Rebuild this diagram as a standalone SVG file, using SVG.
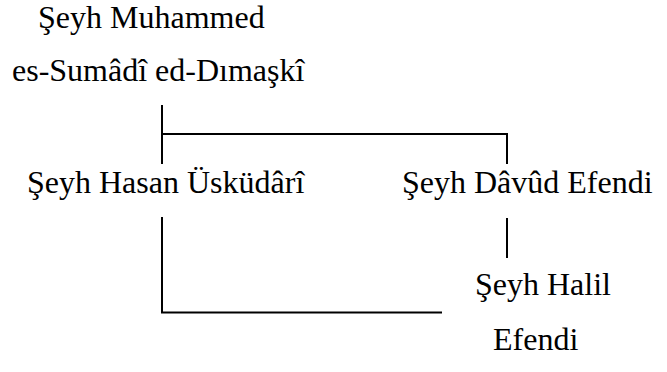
<svg xmlns="http://www.w3.org/2000/svg" width="667" height="372" viewBox="0 0 667 372">
<style>
text{font-family:"Liberation Serif","Times New Roman",serif;font-size:32px;fill:#000}
.c line{stroke:#000;stroke-width:2;fill:none}
</style>
<rect width="667" height="372" fill="#fff"/>
<g class="c" id="connectors">
<line x1="162" y1="105" x2="162" y2="164"/>
<line x1="161" y1="134" x2="508" y2="134"/>
<line x1="507" y1="133" x2="507" y2="164"/>
<line x1="507" y1="218" x2="507" y2="258"/>
<line x1="162" y1="217" x2="162" y2="313"/>
<line x1="161" y1="312.5" x2="442" y2="312.5"/>
</g>
<g id="n1"><text x="38" y="28">Şeyh Muhammed</text><text x="12" y="81">es-Sumâdî ed-Dımaşkî</text></g>
<g id="n2"><text x="27" y="193">Şeyh Hasan Üsküdârî</text></g>
<g id="n3"><text x="402" y="193">Şeyh Dâvûd Efendi</text></g>
<g id="n4"><text x="475" y="295">Şeyh Halil</text><text x="493" y="350">Efendi</text></g>
</svg>
